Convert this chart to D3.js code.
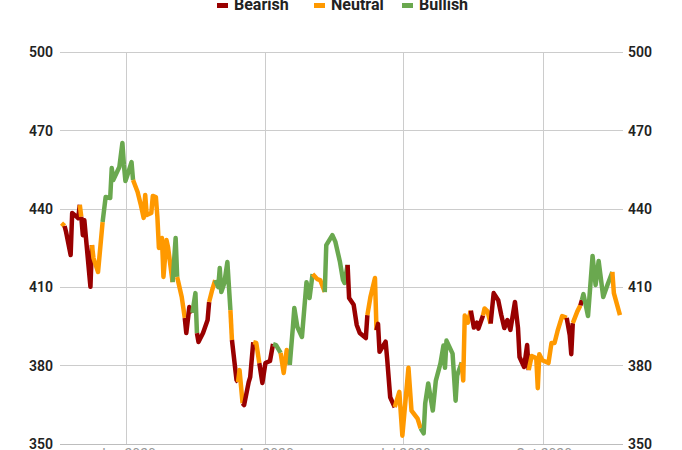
<!DOCTYPE html>
<html>
<head>
<meta charset="utf-8">
<script src="https://cdn.jsdelivr.net/npm/d3@7"></script>
<style>
  html, body { margin: 0; padding: 0; background: #fff; }
  svg { display: block; font-family: Roboto, "Noto Sans", sans-serif; }
</style>
</head>
<body>
<svg id="chart" width="682" height="450"></svg>
<script>
// ---- data ----
const startDate = "2019-11-18";
const days = [1,3,4,7,8,11,12,13,14,15,16,20,21,22,25,28,30,33,34,35,39,41,42,43,45,47,48,51,53,55,56,57,60,61,63,64,65,67,68,70,71,74,76,77,80,82,83,85,87,89,90,91,94,97,98,100,102,104,105,106,108,110,112,113,116,117,118,120,121,124,125,127,129,131,133,135,138,140,142,145,147,149,151,153,154,156,159,162,164,166,169,171,174,175,179,181,184,186,187,189,190,193,195,197,201,202,204,207,208,209,210,214,215,217,220,223,225,229,231,235,237,239,240,242,245,247,250,252,253,254,258,260,261,264,265,266,268,270,272,274,275,278,279,281,283,285,288,290,292,294,296,299,301,302,305,307,308,310,313,314,315,317,321,323,325,327,330,333,335,336,337,340,342,343,344,347,350,352,354,357,360,363,364,368];
const values = [434.6,433.5,431.2,422.4,438.5,437.0,436.5,441.6,437.0,430.0,435.7,410.2,426.2,421.2,415.9,435.0,444.6,444.2,455.7,451.1,456.1,465.3,456.9,450.7,454.2,458.0,451.1,446.5,441.9,436.6,445.4,437.7,438.5,445.0,444.6,437.0,425.1,428.9,414.0,428.1,425.4,412.0,428.9,414.0,406.3,398.3,392.5,402.5,400.2,407.8,392.5,389.1,392.5,397.5,404.4,409.0,412.8,410.1,417.4,408.2,411.7,419.7,401.3,389.8,374.5,373.7,378.3,365.6,364.9,373.7,375.6,389.0,388.7,381.0,373.4,381.0,381.8,388.3,387.9,384.9,377.2,386.0,380.3,394.4,402.1,394.8,391.0,412.0,405.9,415.1,413.2,412.8,408.2,426.2,430.0,427.4,419.7,412.8,411.7,418.6,405.9,403.3,395.6,392.5,390.6,399.4,406.3,413.6,393.6,396.0,385.3,389.2,382.7,367.9,364.1,370.0,353.2,379.2,362.8,359.7,356.0,354.1,365.5,373.2,362.8,374.3,380.8,387.7,379.2,389.6,384.6,366.6,376.2,381.2,374.3,399.2,396.5,401.1,394.6,396.5,394.2,399.2,401.9,400.8,396.1,407.8,405.1,399.4,394.4,397.5,393.7,404.4,394.4,383.3,379.5,387.9,378.3,383.7,382.9,371.4,384.4,382.1,381.0,388.7,388.7,393.3,399.0,398.3,391.7,384.4,396.3,400.8,403.1,405.1,407.4,399.0,422.0,410.9,420.1,406.3,411.3,415.9,407.8,399.4];
// sentiment of the segment that ends at each point: R = Bearish, N = Neutral, G = Bullish
const sentiment = "NNRRRRRRNRRRRNNNGGGGGGGGGGGNNNNNNNNNNNNNNNGGNNRRRGGRRRRNNGGGGGGNRRNNRRRRNNRRRRGGNNNGGGGGGGNNNGGGGGGGRRRRRRNNNRRRRRRNNNNNNGGGGGGGGGGGGGNNNNRRRRNNNRRRRRRRRRRRRNNNNNNNNNNNRRRNNRGGGGGGGGNN".split("");
const seriesNames = ["Bearish", "Neutral", "Bullish"];
const seriesKeys = ["R", "N", "G"];
const seriesColors = ["#990000", "#ff9900", "#6aa84f"];
const yTicks = [350, 380, 410, 440, 470, 500];
const xTickDates = ["2020-01-01", "2020-04-01", "2020-07-01", "2020-10-01"];
const xTickLabels = ["Jan 2020", "Apr 2020", "Jul 2020", "Oct 2020"];

// ---- chart ----
const svg = d3.select("#chart");
const parse = d3.utcParse("%Y-%m-%d");
const t0 = parse(startDate);
const dayMs = 86400000;
const dates = days.map(d => new Date(t0.getTime() + d * dayMs));

const x = d3.scaleUtc()
  .domain([t0, new Date(t0.getTime() + 370 * dayMs)])
  .range([60, 623]);
const y = d3.scaleLinear().domain([350, 500]).range([444, 52.4]);

// grid
const grid = svg.append("g");
grid.selectAll("line.h").data(yTicks).join("line")
  .attr("x1", 60).attr("x2", 623)
  .attr("y1", d => y(d)).attr("y2", d => y(d))
  .attr("stroke", d => d === 350 ? "#bdbdbd" : "#cccccc").attr("stroke-width", 1)
  .attr("shape-rendering", "crispEdges");
grid.selectAll("line.v").data(xTickDates.map(parse)).join("line")
  .attr("x1", d => x(d)).attr("x2", d => x(d))
  .attr("y1", y(500)).attr("y2", y(350))
  .attr("stroke", "#cccccc").attr("stroke-width", 1)
  .attr("shape-rendering", "crispEdges");

// y labels left/right
const yl = svg.append("g").attr("font-size", 14).attr("font-weight", 600).attr("fill", "#222");
yl.selectAll("text.l").data(yTicks).join("text")
  .attr("x", 53).attr("y", d => y(d)).attr("dy", "0.36em")
  .attr("text-anchor", "end").text(d => d);
yl.selectAll("text.r").data(yTicks).join("text")
  .attr("x", 628).attr("y", d => y(d)).attr("dy", "0.36em")
  .attr("text-anchor", "start").text(d => d);

// x labels (mostly below visible area)
svg.append("g").attr("font-size", 14).attr("fill", "#999")
  .selectAll("text").data(xTickDates).join("text")
  .attr("x", d => x(parse(d))).attr("y", 459)
  .attr("text-anchor", "middle")
  .text((d, i) => xTickLabels[i]);

// line: runs of consecutive segments with the same sentiment
const runs = [];
for (let i = 1; i < values.length; i++) {
  const s = sentiment[i];
  const last = runs[runs.length - 1];
  if (last && last.s === s) last.pts.push(i);
  else runs.push({ s, pts: [i - 1, i] });
}
const line = d3.line().x(i => x(dates[i])).y(i => y(values[i]));
svg.append("g").selectAll("path").data(runs).join("path")
  .attr("d", r => line(r.pts))
  .attr("fill", "none")
  .attr("stroke", r => seriesColors[seriesKeys.indexOf(r.s)])
  .attr("stroke-width", 4.5)
  .attr("stroke-linejoin", "round")
  .attr("stroke-linecap", "butt");

// legend
const legendX = [217, 314, 402];
const lg = svg.append("g").attr("font-size", 16).attr("font-weight", 700).attr("fill", "#222");
seriesNames.forEach((name, i) => {
  lg.append("rect").attr("x", legendX[i]).attr("y", 3).attr("width", 11).attr("height", 5)
    .attr("fill", seriesColors[i]);
  lg.append("text").attr("x", legendX[i] + 17).attr("y", 10).text(name);
});
</script>
</body>
</html>
